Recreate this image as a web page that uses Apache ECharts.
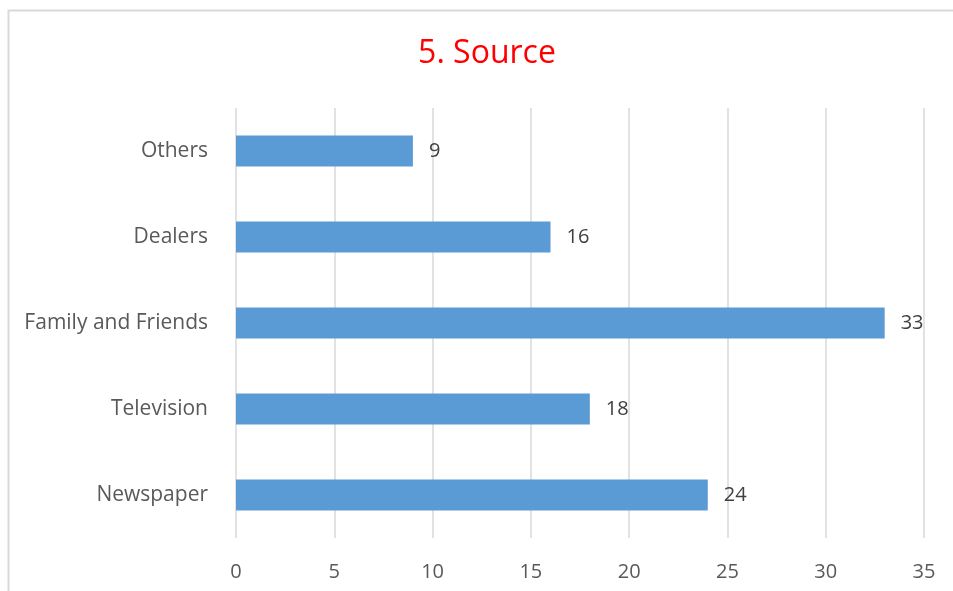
<!DOCTYPE html>
<html>
<head>
<meta charset="utf-8">
<script src="https://cdn.jsdelivr.net/npm/echarts@6/dist/echarts.min.js"></script>
<style>
html,body{margin:0;padding:0;background:#fff;}
#chart{width:953px;height:591px;}
</style>
</head>
<body>
<div id="chart"></div>
<script>
var categories = ['Newspaper', 'Television', 'Family and Friends', 'Dealers', 'Others'];
var values = [24, 18, 33, 16, 9];
var titleText = '5. Source';

var chart = echarts.init(document.getElementById('chart'), null, {renderer: 'canvas'});
chart.setOption({
  backgroundColor: '#ffffff',
  animation: false,
  title: {
    text: titleText,
    left: 482,
    textAlign: 'center',
    top: 33,
    textStyle: {color: '#ff0000', fontSize: 32, fontWeight: 'normal', fontFamily: 'Open Sans'}
  },
  graphic: [{
    type: 'rect',
    left: 6, top: 8,
    shape: {width: 960, height: 600},
    style: {fill: 'none', stroke: '#d9d9d9', lineWidth: 2},
    silent: true
  }],
  grid: {left: 236, right: 29, top: 108, bottom: 53, containLabel: false},
  xAxis: {
    type: 'value',
    min: 0, max: 35, interval: 5,
    axisLine: {show: false},
    axisTick: {show: false},
    splitLine: {show: true, lineStyle: {color: '#d9d9d9', width: 1.5}},
    axisLabel: {color: '#595959', fontSize: 20, fontFamily: 'Open Sans', margin: 24}
  },
  yAxis: {
    type: 'category',
    data: categories,
    axisLine: {show: false},
    axisTick: {show: false},
    axisLabel: {color: '#595959', fontSize: 21, fontFamily: 'Open Sans', margin: 28}
  },
  series: [{
    type: 'bar',
    data: values,
    barWidth: 31,
    itemStyle: {color: '#5b9bd5'},
    label: {show: true, position: 'right', distance: 16, color: '#404040', fontSize: 20, fontFamily: 'Open Sans'}
  }]
});
</script>
</body>
</html>
